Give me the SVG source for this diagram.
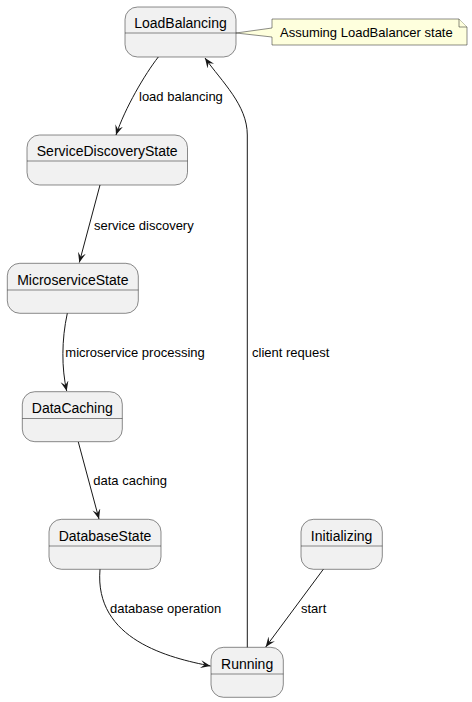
<svg xmlns="http://www.w3.org/2000/svg" width="472" height="702" viewBox="0 0 472 702">
<style>
.st rect{fill:#F1F1F1;stroke:#181818;stroke-width:0.5}
.st line{stroke:#181818;stroke-width:0.5}
.st text{font-family:"Liberation Sans",Arial,sans-serif;font-size:14px;fill:#000;text-anchor:middle}
.lbl{font-family:"Liberation Sans",Arial,sans-serif;font-size:13px;fill:#000}
.edges path{fill:none;stroke:#181818;stroke-width:1}
</style>
<defs>
<marker id="arr" markerUnits="userSpaceOnUse" markerWidth="12" markerHeight="10" refX="10" refY="4" orient="auto" viewBox="0 0 12 10">
<path d="M0,0 L10,4 L0,8 L4,4 Z" fill="#181818"/>
</marker>
</defs>
<rect width="472" height="702" fill="#FFFFFF"/>

<g id="LoadBalancing" class="st">
<rect x="125" y="7" width="111" height="50" rx="12.5"/>
<line x1="125" y1="33" x2="236" y2="33"/>
<text x="180.5" y="28">LoadBalancing</text>
</g>

<g id="note">
<path d="M272,19 L459,19 L467,27 L467,45 L272,45 L272,37 L236,33 L272,28 Z" fill="#FEFFDD" stroke="#181818" stroke-width="0.5"/>
<path d="M459,19 L459,27 L467,27" fill="#FEFFDD" stroke="#181818" stroke-width="0.5"/>
<text class="lbl" x="280" y="37">Assuming LoadBalancer state</text>
</g>

<g id="ServiceDiscoveryState" class="st">
<rect x="27" y="135" width="160.5" height="50" rx="12.5"/>
<line x1="27" y1="161" x2="187.5" y2="161"/>
<text x="107.2" y="156">ServiceDiscoveryState</text>
</g>

<g id="MicroserviceState" class="st">
<rect x="7.3" y="263.3" width="131" height="50" rx="12.5"/>
<line x1="7.3" y1="290" x2="138.3" y2="290"/>
<text x="72.8" y="284.5">MicroserviceState</text>
</g>

<g id="DataCaching" class="st">
<rect x="22.3" y="391.7" width="100" height="50" rx="12.5"/>
<line x1="22.3" y1="418.5" x2="122.3" y2="418.5"/>
<text x="72.3" y="413">DataCaching</text>
</g>

<g id="DatabaseState" class="st">
<rect x="49" y="519.3" width="112" height="50" rx="12.5"/>
<line x1="49" y1="546" x2="161" y2="546"/>
<text x="105" y="540.5">DatabaseState</text>
</g>

<g id="Initializing" class="st">
<rect x="301" y="519.3" width="81.3" height="50" rx="12.5"/>
<line x1="301" y1="546" x2="382.3" y2="546"/>
<text x="341.6" y="540.5">Initializing</text>
</g>

<g id="Running" class="st">
<rect x="211" y="647.3" width="72.3" height="50" rx="12.5"/>
<line x1="211" y1="674" x2="283.3" y2="674"/>
<text x="247.1" y="668.5">Running</text>
</g>

<g class="edges">
<path d="M158.3,57 C145,74 125,108 116,135" marker-end="url(#arr)"/>
<path d="M100,185 L79.3,262.5" marker-end="url(#arr)"/>
<path d="M67.3,313.3 C61.5,340 61.5,368 66.7,391" marker-end="url(#arr)"/>
<path d="M78.3,442 L99,519" marker-end="url(#arr)"/>
<path d="M100,569.3 C94,640 170,658 210.5,666" marker-end="url(#arr)"/>
<path d="M323.3,569.3 L265.7,647" marker-end="url(#arr)"/>
<path d="M247.3,647.3 L247.3,135 C247.3,105 222,82 205,58" marker-end="url(#arr)"/>
<text class="lbl" x="139" y="101">load balancing</text>
<text class="lbl" x="94" y="229.5">service discovery</text>
<text class="lbl" x="65.3" y="357">microservice processing</text>
<text class="lbl" x="93.3" y="485">data caching</text>
<text class="lbl" x="110" y="613">database operation</text>
<text class="lbl" x="301" y="613">start</text>
<text class="lbl" x="252" y="357">client request</text>
</g>
</svg>
